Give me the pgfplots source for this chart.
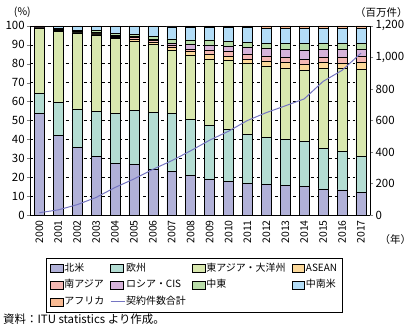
\documentclass[border=0pt]{standalone}
\usepackage{fontspec}
\setmainfont{Noto Sans CJK JP}
\usepackage{pgfplots}
\usepackage{pgfplotstable}
\pgfplotsset{compat=1.18}

\definecolor{cNA}{HTML}{B1B1D8}
\definecolor{cEU}{HTML}{B4DDD3}
\definecolor{cEA}{HTML}{D9E8AF}
\definecolor{cAS}{HTML}{FCD99B}
\definecolor{cSA}{HTML}{F4B8B4}
\definecolor{cRU}{HTML}{D6B3DA}
\definecolor{cME}{HTML}{B9DDA9}
\definecolor{cLA}{HTML}{B3DDF7}
\definecolor{cAF}{HTML}{F8BA93}
\definecolor{cLine}{HTML}{7575C2}

\pgfplotstableread{
x NA EU EA AS SA RU ME LA AF T
0 53.7 10.7 34.2 0.2 0.1 0.1 0.2 0.7 0.1 15
1 42.3 17.3 37.7 0.4 0.3 0.3 0.4 1.2 0.1 33
2 35.8 20.3 40.2 0.4 0.3 0.3 0.4 2.2 0.1 66
3 31.0 23.7 40.6 0.5 0.4 0.5 0.8 2.4 0.1 112
4 27.4 26.3 39.6 0.6 0.6 0.5 1.0 3.9 0.1 175
5 26.8 28.6 36.6 0.9 0.9 0.5 1.4 4.1 0.2 229
6 24.2 30.0 36.1 1.0 0.9 0.8 1.3 5.4 0.3 290
7 23.3 30.4 33.3 1.8 1.2 0.9 2.3 6.3 0.5 345
8 21.1 29.6 34.0 1.8 1.2 2.6 2.3 6.7 0.7 408
9 19.1 28.4 35.0 2.7 1.8 3.0 2.6 6.7 0.7 475
10 17.9 27.5 36.2 2.3 2.6 3.0 2.3 7.5 0.7 532
11 16.8 26.0 37.2 2.4 2.8 3.5 2.5 8.1 0.7 600
12 16.3 24.8 37.8 2.6 2.6 4.0 2.6 8.1 1.2 650
13 15.8 24.2 37.7 3.0 2.8 4.2 3.2 7.9 1.2 693
14 15.3 23.6 37.9 3.0 2.6 4.9 3.5 8.0 1.2 737
15 13.9 21.4 42.4 3.0 2.8 3.9 3.5 7.9 1.2 848
16 13.3 20.4 44.0 2.6 3.2 3.9 3.5 7.9 1.2 918
17 12.1 18.9 46.2 3.7 3.0 3.5 3.5 7.9 1.2 1027
}\data

\pgfplotsset{
  boxlegend/.style={legend image code/.code={\draw[##1,solid,draw=black,line width=0.5pt] (0pt,-4pt) rectangle (13pt,4pt);}},
  linelegend/.style={legend image code/.code={\draw[##1,solid] (0pt,0pt) -- (14pt,0pt);}},
}

\begin{document}
\begin{tikzpicture}[font=\fontsize{10}{12}\selectfont]
\begin{axis}[
  scale only axis, width=342pt, height=190pt,
  ybar stacked, bar width=10pt,
  xmin=-0.5, xmax=17.5, ymin=0, ymax=100,
  xtick={0,...,17},
  xticklabels={2000,2001,2002,2003,2004,2005,2006,2007,2008,2009,2010,2011,2012,2013,2014,2015,2016,2017},
  x tick label style={rotate=90, anchor=east, font=\fontsize{10.5}{11}\selectfont, inner sep=2pt},
  xtick style={draw=none},
  ytick={0,10,...,100},
  ytick pos=left, tick align=outside, major tick length=3pt,
  y tick label style={font=\fontsize{11.5}{12}\selectfont, inner sep=2pt},
  ymajorgrids, grid style={dashed, black, line width=0.5pt},
  axis line style={line width=0.6pt},
  /pgf/number format/assume math mode=true,
  legend columns=4,
  legend style={at={(0.482,-0.226)}, anchor=north, draw=black, solid, line width=0.5pt,
    font=\fontsize{10}{11}\selectfont, row sep=6pt, inner xsep=4pt, inner ysep=4.5pt,
    nodes={inner sep=1pt, text height=7.5pt, text depth=1.5pt},
    /tikz/every even column/.append style={column sep=5pt}},
  legend cell align=left,
  clip=false,
]
\addplot[fill=cNA, draw=black, line width=0.5pt, boxlegend] table[x=x,y=NA]{\data};
\addlegendentry{北米}
\addplot[fill=cEU, draw=black, line width=0.5pt, boxlegend] table[x=x,y=EU]{\data};
\addlegendentry{欧州}
\addplot[fill=cEA, draw=black, line width=0.5pt, boxlegend] table[x=x,y=EA]{\data};
\addlegendentry{東アジア・大洋州}
\addplot[fill=cAS, draw=black, line width=0.5pt, boxlegend] table[x=x,y=AS]{\data};
\addlegendentry{ASEAN}
\addplot[fill=cSA, draw=black, line width=0.5pt, boxlegend] table[x=x,y=SA]{\data};
\addlegendentry{南アジア}
\addplot[fill=cRU, draw=black, line width=0.5pt, boxlegend] table[x=x,y=RU]{\data};
\addlegendentry{ロシア・CIS}
\addplot[fill=cME, draw=black, line width=0.5pt, boxlegend] table[x=x,y=ME]{\data};
\addlegendentry{中東}
\addplot[fill=cLA, draw=black, line width=0.5pt, boxlegend] table[x=x,y=LA]{\data};
\addlegendentry{中南米}
\addplot[fill=cAF, draw=black, line width=0.5pt, boxlegend] table[x=x,y=AF]{\data};
\addlegendentry{アフリカ}
\addlegendimage{linelegend, color=cLine, solid, line width=1pt}
\addlegendentry{契約件数合計}
\node[anchor=south east, inner sep=0pt, font=\fontsize{10.5}{12}\selectfont] at (rel axis cs:0,1) [xshift=1pt, yshift=8pt] {(\%)};
\node[anchor=south, inner sep=0pt, font=\fontsize{10.5}{12}\selectfont] at (rel axis cs:1,1) [xshift=11pt, yshift=8pt] {（百万件）};
\node[anchor=center, inner sep=0pt, font=\fontsize{10.5}{12}\selectfont] at (rel axis cs:1,0) [xshift=25pt, yshift=-25pt] {（年）};
\node[anchor=west, inner sep=0pt, font=\fontsize{11.5}{12}\selectfont] at (rel axis cs:0,0) [xshift=-27pt, yshift=-105pt] {資料：ITU statistics より作成。};
\path (rel axis cs:0,1) ++(-30pt,26pt) coordinate (bbA);
\path (rel axis cs:1,0) ++(39pt,-114pt) coordinate (bbB);
\end{axis}
\begin{axis}[
  scale only axis, width=342pt, height=190pt,
  xmin=-0.5, xmax=17.5, ymin=0, ymax=1200,
  axis y line*=right, axis x line=none,
  ytick={0,200,...,1200},
  tick align=outside, major tick length=3pt,
  y tick label style={font=\fontsize{11.5}{12}\selectfont, inner sep=2pt},
  axis line style={line width=0.6pt},
  /pgf/number format/assume math mode=true,
  /pgf/number format/1000 sep={,},
]
\addplot[color=cLine, solid, line width=1pt, mark=none] table[x=x,y=T]{\data};
\end{axis}
\path (bbA) rectangle (bbB);
\end{tikzpicture}
\end{document}
